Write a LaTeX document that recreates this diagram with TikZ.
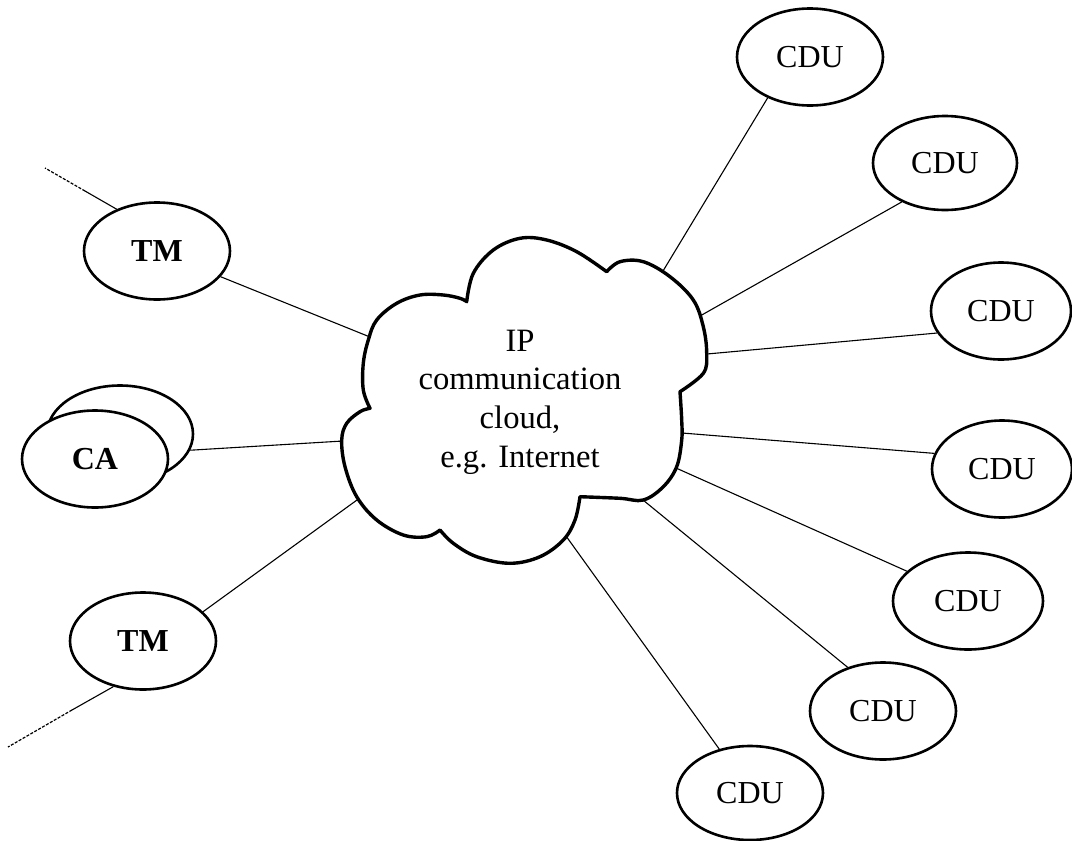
\documentclass[tikz,border=0pt]{standalone}
\usepackage{fontspec}
\setmainfont{Liberation Serif}
\usetikzlibrary{shapes.geometric}
\begin{document}
\begin{tikzpicture}[x=1pt,y=-1pt,
  unit/.style={ellipse, draw, line width=2.6pt, fill=white, inner sep=0pt,
    minimum width=146pt, minimum height=97pt, font=\fontsize{32}{36}\selectfont},
  boldunit/.style={unit, font=\fontsize{32}{36}\selectfont\bfseries},
  link/.style={line width=1.1pt},
  stub/.style={line width=1.2pt, dash pattern=on 3pt off 1.5pt},
  cloudline/.style={line width=3.4pt, line join=round, fill=white},
  cloudtext/.style={align=center, inner sep=0pt, font=\fontsize{32.6}{38.7}\selectfont}]

\path[use as bounding box] (0,0) rectangle (1072,841);

% terminal managers and certificate authority
\node[boldunit] (tm1) at (157,251) {TM};
\node[unit] (caback) at (120,434) {};
\node[boldunit] (ca) at (95,459) {CA};
\node[boldunit] (tm2) at (143,641) {TM};

% client devices
\node[unit] (cdu1) at (810,57) {CDU};
\node[unit, minimum width=144pt, minimum height=94pt] (cdu2) at (945,163) {CDU};
\node[unit, minimum width=140pt] (cdu3) at (1001,311) {CDU};
\node[unit, minimum width=140pt] (cdu4) at (1002,469) {CDU};
\node[unit, minimum width=150pt] (cdu5) at (968,601) {CDU};
\node[unit] (cdu6) at (883,711) {CDU};
\node[unit, minimum height=94pt] (cdu7) at (750,793) {CDU};

% attachment points on the cloud outline
\coordinate (ctm1) at (370,337);
\coordinate (cca) at (343,441);
\coordinate (ctm2) at (357,500);
\coordinate (c1) at (663,271);
\coordinate (c2) at (700,316);
\coordinate (c3) at (707,354);
\coordinate (c4) at (682,433);
\coordinate (c5) at (676,468);
\coordinate (c6) at (643,500);
\coordinate (c7) at (566,536);

% outgoing stubs of the terminal managers
\coordinate (tm1mid) at (85,191);
\coordinate (tm1end) at (45,168);
\coordinate (tm2mid) at (72,710);
\coordinate (tm2end) at (8,747);

% connectors
\draw[link] (tm1.338) -- (ctm1);
\draw[link] (caback.347) -- (cca);
\draw[link] (tm2.26) -- (ctm2);
\draw[link] (cdu1.224) -- (c1);
\draw[link] (cdu2.222) -- (c2);
\draw[link] (cdu3.199) -- (c3);
\draw[link] (cdu4.167) -- (c4);
\draw[link] (cdu5.154) -- (c5);
\draw[link] (cdu6.129) -- (c6);
\draw[link] (cdu7.125) -- (c7);
\draw[link] (tm1.134) -- (tm1mid);
\draw[stub] (tm1mid) -- (tm1end);
\draw[link] (tm2.237) -- (tm2mid);
\draw[stub] (tm2mid) -- (tm2end);

% IP cloud
\draw[cloudline]
  plot[smooth, tension=0.6] coordinates {(370,408.3) (363.3,390) (363.3,363.3) (368.3,340) (376.7,320) (396.7,303.3) (420,295) (443.3,295) (460,298.3) (466.7,301.7)}
  -- plot[smooth, tension=0.6] coordinates {(466.7,301.7) (473.3,273.3) (493.3,250) (520,238.3) (546.7,240) (576.7,251.7) (606.7,271.7)}
  -- plot[smooth, tension=0.6] coordinates {(606.7,271.7) (620,261.7) (643.3,261.7) (670,276.7) (693.3,300) (703.3,326.7) (706.7,353.3) (703.3,373.3) (680,391.7)}
  -- plot[smooth, tension=0.6] coordinates {(680,391.7) (681.7,420) (681.7,440) (676.7,466.7) (663.3,486.7) (643.3,500) (620,498.3) (580,496.7)}
  -- plot[smooth, tension=0.6] coordinates {(580,496.7) (575,520) (563.3,540) (540,556.7) (510,563.3) (476.7,556.7) (453.3,543.3) (440,530)}
  -- plot[smooth, tension=0.6] coordinates {(440,530) (426.7,536.7) (403.3,535) (376.7,520) (356.7,496.7) (345,466.7) (341.7,440) (346.7,423.3) (360,411.7) (370,408.3)}
  -- cycle;
\node[cloudtext] (cloud) at (520,402) {IP\\communication\\cloud,\\e.g. Internet};

\end{tikzpicture}
\end{document}
